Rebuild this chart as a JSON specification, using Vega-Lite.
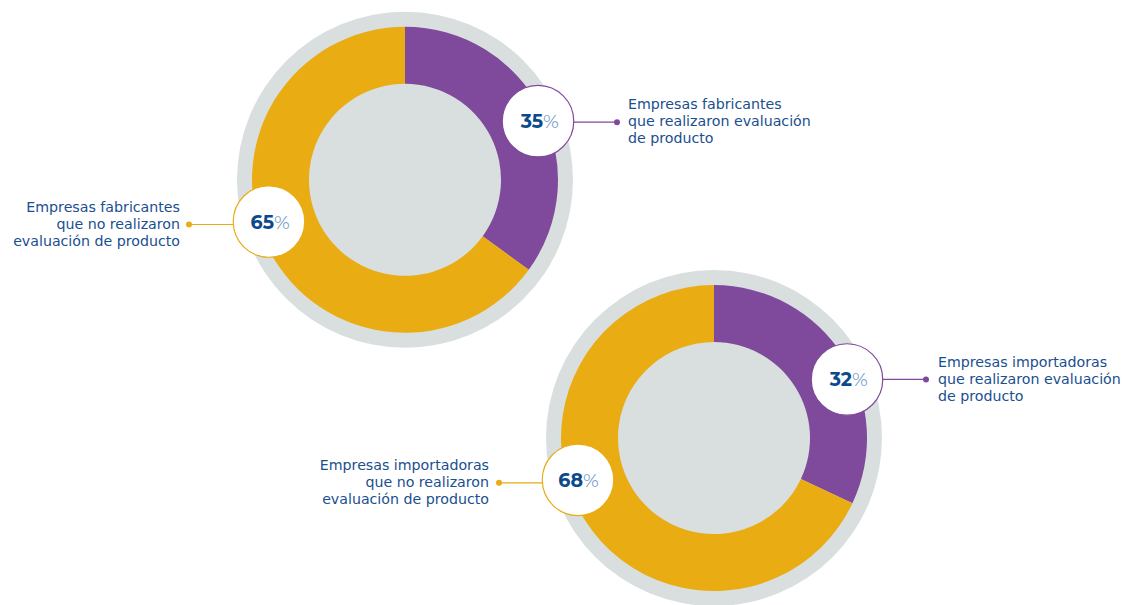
{
  "$schema": "https://vega.github.io/schema/vega-lite/v6.json",
  "width": 1125,
  "height": 605,
  "autosize": {"type": "fit", "contains": "padding"},
  "padding": 0,
  "background": "white",
  "config": {"view": {"stroke": null}},
  "datasets": {
    "donuts": [
      {"donut": "Fabricantes", "cx": 405, "cy": 181},
      {"donut": "Importadoras", "cx": 714, "cy": 441}
    ],
    "slices": [
      {"donut": "Fabricantes", "cx": 405, "cy": 181, "category": "Realizaron", "start": 0, "end": 35},
      {"donut": "Fabricantes", "cx": 405, "cy": 181, "category": "No realizaron", "start": 35, "end": 100},
      {"donut": "Importadoras", "cx": 714, "cy": 441, "category": "Realizaron", "start": 0, "end": 32},
      {"donut": "Importadoras", "cx": 714, "cy": 441, "category": "No realizaron", "start": 32, "end": 100}
    ],
    "labels": [
      {"category": "Realizaron", "value": "35", "cx": 538, "cy": 122, "dotx": 617, "doty": 123, "lx": 628, "ly": 106, "align": "left", "text": "Empresas fabricantes\nque realizaron evaluación\nde producto"},
      {"category": "No realizaron", "value": "65", "cx": 269, "cy": 223, "dotx": 189, "doty": 226, "lx": 180, "ly": 209, "align": "right", "text": "Empresas fabricantes\nque no realizaron\nevaluación de producto"},
      {"category": "Realizaron", "value": "32", "cx": 847, "cy": 382, "dotx": 926, "doty": 382, "lx": 938, "ly": 365, "align": "left", "text": "Empresas importadoras\nque realizaron evaluación\nde producto"},
      {"category": "No realizaron", "value": "68", "cx": 578, "cy": 483, "dotx": 499, "doty": 486, "lx": 489, "ly": 469, "align": "right", "text": "Empresas importadoras\nque no realizaron\nevaluación de producto"}
    ]
  },
  "layer": [
    {
      "data": {"name": "donuts"},
      "mark": {"type": "point", "shape": "circle", "filled": true, "size": 112896, "color": "#d9dfdf", "opacity": 1},
      "encoding": {
        "x": {"field": "cx", "type": "quantitative", "scale": {"domain": [0, 1125], "nice": false, "zero": false}, "axis": null},
        "y": {"field": "cy", "type": "quantitative", "scale": {"domain": [605, 0], "nice": false, "zero": false}, "axis": null}
      }
    },
    {
      "data": {"name": "slices"},
      "mark": {"type": "arc", "radius": 153, "radius2": 96},
      "encoding": {
        "x": {"field": "cx", "type": "quantitative", "scale": {"domain": [0, 1125], "nice": false, "zero": false}, "axis": null},
        "y": {"field": "cy", "type": "quantitative", "scale": {"domain": [605, 0], "nice": false, "zero": false}, "axis": null},
        "theta": {"field": "start", "type": "quantitative", "stack": null, "scale": {"domain": [0, 100], "range": [0, 6.283185307]}},
        "theta2": {"field": "end"},
        "color": {"field": "category", "type": "nominal", "scale": {"domain": ["Realizaron", "No realizaron"], "range": ["#7f4a9b", "#e9ac13"]}, "legend": null}
      }
    },
    {
      "data": {"name": "labels"},
      "mark": {"type": "rule", "strokeWidth": 1.2},
      "encoding": {
        "x": {"field": "cx", "type": "quantitative", "scale": {"domain": [0, 1125], "nice": false, "zero": false}, "axis": null},
        "x2": {"field": "dotx"},
        "y": {"field": "doty", "type": "quantitative", "scale": {"domain": [605, 0], "nice": false, "zero": false}, "axis": null},
        "color": {"field": "category", "type": "nominal", "scale": {"domain": ["Realizaron", "No realizaron"], "range": ["#7f4a9b", "#e9ac13"]}, "legend": null}
      }
    },
    {
      "data": {"name": "labels"},
      "mark": {"type": "point", "shape": "circle", "filled": true, "size": 36, "opacity": 1},
      "encoding": {
        "x": {"field": "dotx", "type": "quantitative", "scale": {"domain": [0, 1125], "nice": false, "zero": false}, "axis": null},
        "y": {"field": "doty", "type": "quantitative", "scale": {"domain": [605, 0], "nice": false, "zero": false}, "axis": null},
        "color": {"field": "category", "type": "nominal", "scale": {"domain": ["Realizaron", "No realizaron"], "range": ["#7f4a9b", "#e9ac13"]}, "legend": null}
      }
    },
    {
      "data": {"name": "labels"},
      "mark": {"type": "point", "shape": "circle", "filled": false, "size": 5112, "fill": "white", "fillOpacity": 1, "strokeWidth": 1.2, "opacity": 1},
      "encoding": {
        "x": {"field": "cx", "type": "quantitative", "scale": {"domain": [0, 1125], "nice": false, "zero": false}, "axis": null},
        "y": {"field": "cy", "type": "quantitative", "scale": {"domain": [605, 0], "nice": false, "zero": false}, "axis": null},
        "stroke": {"field": "category", "type": "nominal", "scale": {"domain": ["Realizaron", "No realizaron"], "range": ["#7f4a9b", "#e9ac13"]}, "legend": null}
      }
    },
    {
      "data": {"name": "labels"},
      "mark": {"type": "text", "align": "right", "baseline": "middle", "dx": 5, "dy": 1, "font": "Montserrat, DejaVu Sans", "fontWeight": "bold", "fontSize": 19, "color": "#0b4a8b"},
      "encoding": {
        "x": {"field": "cx", "type": "quantitative", "scale": {"domain": [0, 1125], "nice": false, "zero": false}, "axis": null},
        "y": {"field": "cy", "type": "quantitative", "scale": {"domain": [605, 0], "nice": false, "zero": false}, "axis": null},
        "text": {"field": "value", "type": "nominal"}
      }
    },
    {
      "data": {"name": "labels"},
      "mark": {"type": "text", "align": "left", "baseline": "middle", "dx": 5, "dy": 1, "font": "Montserrat, DejaVu Sans", "fontWeight": "normal", "fontSize": 19, "color": "#7c9fca", "text": "%"},
      "encoding": {
        "x": {"field": "cx", "type": "quantitative", "scale": {"domain": [0, 1125], "nice": false, "zero": false}, "axis": null},
        "y": {"field": "cy", "type": "quantitative", "scale": {"domain": [605, 0], "nice": false, "zero": false}, "axis": null}
      }
    },
    {
      "data": {"name": "labels"},
      "transform": [{"filter": "datum.align === 'left'"}],
      "mark": {"type": "text", "align": "left", "baseline": "middle", "lineBreak": "\n", "lineHeight": 17, "font": "DejaVu Sans", "fontSize": 14.2, "color": "#1a4f8f"},
      "encoding": {
        "x": {"field": "lx", "type": "quantitative", "scale": {"domain": [0, 1125], "nice": false, "zero": false}, "axis": null},
        "y": {"field": "ly", "type": "quantitative", "scale": {"domain": [605, 0], "nice": false, "zero": false}, "axis": null},
        "text": {"field": "text", "type": "nominal"}
      }
    },
    {
      "data": {"name": "labels"},
      "transform": [{"filter": "datum.align === 'right'"}],
      "mark": {"type": "text", "align": "right", "baseline": "middle", "lineBreak": "\n", "lineHeight": 17, "font": "DejaVu Sans", "fontSize": 14.2, "color": "#1a4f8f"},
      "encoding": {
        "x": {"field": "lx", "type": "quantitative", "scale": {"domain": [0, 1125], "nice": false, "zero": false}, "axis": null},
        "y": {"field": "ly", "type": "quantitative", "scale": {"domain": [605, 0], "nice": false, "zero": false}, "axis": null},
        "text": {"field": "text", "type": "nominal"}
      }
    }
  ]
}
